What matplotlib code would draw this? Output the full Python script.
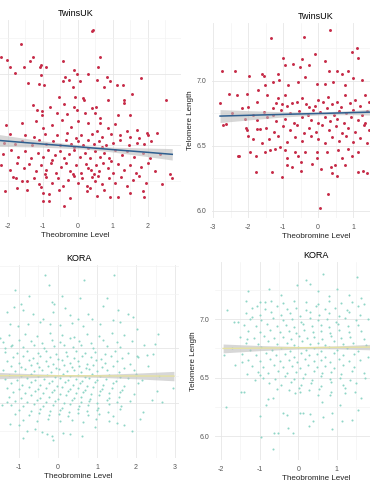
import matplotlib
matplotlib.use("Agg")
import matplotlib.pyplot as plt
from matplotlib.ticker import MultipleLocator
import numpy as np

plt.rcParams['font.family'] = ['Liberation Sans', 'DejaVu Sans']
plt.rcParams['axes.unicode_minus'] = False

########## Data
# TwinsUK, left panel : (theobromine level, telomere length)
twins_a = [
    (0.40, 7.30), (0.42, 7.31), (-1.63, 7.21), (-2.21, 7.12), (-2.03, 7.10), (-1.94, 7.05), (-1.80, 7.01),
    (-1.53, 7.05), (-1.37, 7.09), (-1.29, 7.12), (-1.09, 7.05), (-1.05, 7.06), (-1.06, 6.99), (-0.90, 7.05),
    (-0.42, 7.09), (-0.11, 7.03), (-0.02, 7.00), (0.30, 7.00), (0.63, 7.12), (0.58, 7.05), (-1.43, 6.94),
    (-1.11, 6.93), (-0.96, 6.92), (-0.37, 6.98), (-0.42, 6.95), (-0.25, 6.96), (-0.13, 6.91), (0.06, 6.95),
    (0.55, 6.96), (0.84, 6.98), (0.93, 6.95), (0.74, 6.91), (1.12, 6.92), (1.28, 6.92), (1.80, 6.97),
    (1.56, 6.86), (2.51, 6.82), (-0.55, 6.84), (-0.40, 6.79), (-0.09, 6.84), (0.14, 6.83), (0.18, 6.82),
    (-0.11, 6.77), (-0.02, 6.75), (0.40, 6.76), (0.51, 6.77), (0.85, 6.82), (1.31, 6.82), (1.33, 6.80),
    (-1.29, 6.78), (-1.17, 6.75), (-1.03, 6.74), (-0.80, 6.77), (-0.60, 6.73), (-0.31, 6.72), (0.20, 6.73),
    (0.49, 6.73), (0.63, 6.69), (1.14, 6.71), (1.49, 6.71), (-1.03, 6.71),
    (-1.20, 6.67), (-0.74, 6.64), (-1.00, 6.62), (-0.46, 6.68), (0.00, 6.67), (0.29, 6.66), (0.63, 6.66),
    (1.06, 6.65), (1.40, 6.60), (1.69, 6.61), (1.97, 6.59), (2.26, 6.59), (-1.60, 6.66), (-0.20, 6.63),
    (0.85, 6.62), (-2.05, 6.64),
    (-1.94, 6.58), (-1.51, 6.57), (-1.25, 6.56), (-0.95, 6.58), (-0.60, 6.57), (-0.30, 6.59), (0.10, 6.57),
    (0.40, 6.58), (0.70, 6.56), (0.95, 6.58), (1.20, 6.57), (1.50, 6.56), (1.75, 6.55), (2.00, 6.57),
    (-0.05, 6.55), (0.55, 6.60),
    (-2.10, 6.52), (-1.80, 6.51), (-1.60, 6.53), (-1.30, 6.50), (-1.10, 6.54), (-0.90, 6.51), (-0.70, 6.53),
    (-0.50, 6.50), (-0.35, 6.54), (-0.20, 6.51), (0.00, 6.53), (0.15, 6.50), (0.30, 6.54), (0.45, 6.51),
    (0.60, 6.53), (0.80, 6.50), (1.00, 6.52), (1.20, 6.54), (1.45, 6.50), (1.70, 6.52), (1.90, 6.51),
    (2.10, 6.53), (-0.10, 6.49), (0.70, 6.49),
    (-2.15, 6.44), (-1.90, 6.47), (-1.70, 6.42), (-1.50, 6.46), (-1.35, 6.41), (-1.15, 6.45), (-1.00, 6.42),
    (-0.85, 6.47), (-0.65, 6.43), (-0.50, 6.46), (-0.40, 6.41), (-0.25, 6.44), (-0.10, 6.47), (0.05, 6.42),
    (0.20, 6.45), (0.35, 6.41), (0.50, 6.46), (0.62, 6.42), (0.75, 6.45), (0.90, 6.41), (1.05, 6.47),
    (1.25, 6.43), (1.40, 6.46), (1.60, 6.42), (1.85, 6.45), (2.05, 6.41), (2.35, 6.44), (-0.75, 6.40),
    (0.28, 6.48),
    (-2.20, 6.36), (-1.95, 6.33), (-1.75, 6.38), (-1.55, 6.34), (-1.40, 6.37), (-1.20, 6.32), (-1.05, 6.36),
    (-0.90, 6.33), (-0.78, 6.38), (-0.62, 6.31), (-0.48, 6.35), (-0.35, 6.38), (-0.22, 6.32), (-0.05, 6.36),
    (0.08, 6.31), (0.22, 6.37), (0.38, 6.33), (0.45, 6.30), (0.52, 6.36), (0.60, 6.32), (0.72, 6.38),
    (0.85, 6.34), (1.00, 6.31), (1.15, 6.37), (1.32, 6.33), (1.48, 6.36), (1.65, 6.31), (1.80, 6.35),
    (2.00, 6.38), (2.20, 6.32), (-0.15, 6.30), (0.30, 6.34), (-0.95, 6.30), (0.95, 6.39),
    (-1.85, 6.28), (-1.60, 6.25), (-1.46, 6.25), (-1.77, 6.27), (-1.25, 6.27), (-1.10, 6.23), (-0.92, 6.28),
    (-0.75, 6.24), (-0.58, 6.27), (-0.42, 6.22), (-0.28, 6.26), (-0.12, 6.29), (0.00, 6.24), (0.12, 6.27),
    (0.25, 6.22), (0.40, 6.28), (0.48, 6.25), (0.58, 6.29), (0.70, 6.23), (0.88, 6.27), (1.05, 6.24),
    (1.22, 6.28), (1.40, 6.22), (1.58, 6.26), (1.75, 6.29), (1.95, 6.24), (2.63, 6.30), (2.69, 6.27),
    (2.40, 6.23), (-1.05, 6.21), (0.35, 6.20),
    (-2.09, 6.18), (-1.00, 6.17), (-0.83, 6.16), (-1.00, 6.11), (-0.83, 6.11), (-0.40, 6.08), (-0.23, 6.13),
    (0.26, 6.18), (0.54, 6.15), (0.91, 6.14), (1.14, 6.14), (1.89, 6.14), (1.86, 6.18), (-1.45, 6.19),
    (-0.55, 6.19), (0.75, 6.19), (1.50, 6.17), (-1.75, 6.20),
]

# TwinsUK, right panel
twins_b = [
    (-1.34, 7.33), (-0.40, 7.34), (0.34, 7.39), (1.11, 7.25), (0.97, 7.22), (-2.74, 7.08), (-2.37, 7.08),
    (-1.97, 7.04), (-1.60, 7.05), (-1.54, 7.04), (-2.54, 6.90), (-2.31, 6.89), (-2.03, 6.90), (-2.80, 6.83),
    (-1.00, 7.18), (-0.46, 7.17), (-0.09, 7.21), (-0.94, 7.12), (-0.71, 7.13), (-0.51, 7.11), (-0.26, 7.12),
    (0.20, 7.15), (0.31, 7.08), (0.54, 7.08), (0.69, 7.05), (0.86, 7.08), (1.14, 7.18), (-1.14, 7.05),
    (-1.29, 6.99), (-1.11, 7.01), (-0.86, 6.97), (-0.57, 6.99), (-0.37, 7.03), (-0.03, 6.98), (0.20, 6.98),
    (0.43, 6.99), (0.77, 6.97), (1.00, 7.02), (1.26, 7.01), (-1.51, 6.97), (-1.71, 6.93), (-1.46, 6.89),
    (-1.74, 6.84), (-2.00, 6.80), (-2.17, 6.79), (-1.14, 6.87), (-0.94, 6.89), (-1.03, 6.82), (-0.74, 6.83),
    (-0.46, 6.87), (-0.26, 6.80), (0.00, 6.85), (0.29, 6.88), (0.54, 6.84), (0.77, 6.89), (1.06, 6.85),
    (1.34, 6.89), (-1.29, 6.79),
    (-2.71, 6.66), (-2.00, 6.58), (-2.03, 6.62), (-1.74, 6.63), (-1.66, 6.63), (-2.29, 6.42), (-2.26, 6.42),
    (-1.94, 6.45), (-1.77, 6.42), (-1.60, 6.52), (-1.77, 6.30), (-1.31, 6.30), (-1.03, 6.26), (-0.89, 6.35),
    (-0.89, 6.41), (-0.74, 6.34), (-0.49, 6.31), (-0.49, 6.38), (-0.17, 6.36), (0.09, 6.32), (0.37, 6.34),
    (0.49, 6.35), (0.40, 6.29), (0.54, 6.27), (0.29, 6.13), (0.06, 6.02), (0.77, 6.35), (1.14, 6.30),
    (1.29, 6.31), (1.40, 6.29), (-1.51, 6.45), (-1.37, 6.47), (-1.23, 6.48), (-1.09, 6.49), (-0.94, 6.47),
    (-0.66, 6.45), (-0.37, 6.45), (-0.03, 6.45), (0.26, 6.45), (0.57, 6.47), (0.86, 6.48), (1.14, 6.45),
    (-0.03, 6.41), (-0.57, 6.42), (0.69, 6.41), (0.97, 6.42),
    (-1.20, 6.83), (-0.90, 6.81), (-0.60, 6.84), (-0.35, 6.82), (-0.10, 6.81), (0.15, 6.84), (0.40, 6.82),
    (0.65, 6.80), (0.90, 6.83), (1.20, 6.81), (1.45, 6.84),
    (-1.55, 6.76), (-1.30, 6.74), (-1.05, 6.78), (-0.80, 6.75), (-0.55, 6.77), (-0.30, 6.74), (-0.15, 6.78),
    (0.05, 6.76), (0.25, 6.79), (0.45, 6.74), (0.60, 6.77), (0.80, 6.75), (1.00, 6.78), (1.25, 6.74),
    (1.40, 6.77), (-2.45, 6.75), (-1.85, 6.74),
    (-1.75, 6.70), (-1.45, 6.72), (-1.20, 6.69), (-0.95, 6.71), (-0.70, 6.68), (-0.45, 6.72), (-0.20, 6.70),
    (0.00, 6.68), (0.20, 6.72), (0.35, 6.69), (0.55, 6.71), (0.75, 6.68), (0.95, 6.72), (1.15, 6.70),
    (1.35, 6.68), (-2.10, 6.71), (-2.63, 6.67),
    (-1.50, 6.64), (-1.25, 6.61), (-1.00, 6.65), (-0.80, 6.62), (-0.60, 6.66), (-0.40, 6.60), (-0.25, 6.64),
    (-0.05, 6.61), (0.10, 6.66), (0.30, 6.62), (0.50, 6.65), (0.68, 6.60), (0.85, 6.64), (1.05, 6.61),
    (1.30, 6.66), (1.45, 6.62), (-2.05, 6.64),
    (-1.40, 6.55), (-1.15, 6.58), (-0.90, 6.53), (-0.65, 6.57), (-0.45, 6.54), (-0.20, 6.58), (0.00, 6.55),
    (0.20, 6.52), (0.40, 6.57), (0.60, 6.54), (0.80, 6.58), (1.00, 6.53), (1.20, 6.56), (1.40, 6.52),
    (-1.85, 6.55),
]

# KORA, left panel
kora_a = [
    (-0.33, 7.67), (1.44, 7.67), (-0.23, 7.58), (0.67, 7.62), (-1.10, 7.53), (-0.74, 7.48), (0.10, 7.48),
    (0.56, 7.46), (1.26, 7.46), (-0.15, 7.42), (-0.10, 7.40), (-0.95, 7.40), (-1.13, 7.38), (-1.31, 7.33),
    (1.15, 7.39), (0.18, 7.37), (1.54, 7.35), (1.80, 7.31), (1.92, 7.29), (-0.90, 7.35), (-0.64, 7.31),
    (-0.38, 7.27), (-0.13, 7.33), (0.31, 7.30), (0.51, 7.27), (0.77, 7.31), (0.87, 7.27), (1.41, 7.26),
    (1.59, 7.24), (-1.23, 7.22), (-1.03, 7.20), (-0.77, 7.22), (-0.46, 7.24), (-0.21, 7.22), (0.05, 7.21),
    (0.36, 7.23), (0.64, 7.20), (1.08, 7.22), (2.03, 7.18), (2.56, 7.13), (2.49, 7.04), (2.28, 6.94),
    (2.44, 6.95), (2.03, 6.93), (-1.49, 7.09), (-1.18, 7.03), (-1.36, 7.00),
    (-0.80, 6.25), (-0.60, 6.26), (-0.40, 6.24), (-0.90, 6.18), (-0.28, 6.22), (-0.15, 6.20), (-0.13, 6.16),
    (0.13, 6.23), (0.31, 6.22), (0.62, 6.20), (1.90, 6.25), (1.51, 6.32), (2.10, 6.36), (-1.23, 6.31),
    (-1.44, 6.48), (-1.31, 6.51), (2.67, 6.51), (2.95, 6.64), (2.41, 6.53), (2.18, 6.42), (2.54, 6.61),
    (1.70, 6.30), (0.95, 6.28), (-1.00, 6.30),
    (-1.25, 7.12), (-0.85, 7.13), (-0.55, 7.11), (-0.20, 7.14), (0.10, 7.12), (0.42, 7.10), (0.75, 7.13),
    (1.05, 7.11), (1.38, 7.14), (1.70, 7.12),
    (-1.40, 7.06), (-1.00, 7.08), (-0.70, 7.07), (-0.40, 7.05), (-0.15, 7.08), (0.05, 7.06), (0.30, 7.09),
    (0.55, 7.07), (0.85, 7.05), (1.15, 7.08), (1.50, 7.06), (1.90, 7.07),
    (-1.20, 7.02), (-0.90, 7.01), (-0.62, 7.03), (-0.35, 7.00), (-0.10, 7.02), (0.15, 7.03), (0.38, 7.01),
    (0.60, 7.03), (0.90, 7.00), (1.25, 7.02), (1.60, 7.01), (2.20, 7.03),
    (-1.35, 6.97), (-1.05, 6.96), (-0.80, 6.98), (-0.50, 6.96), (-0.30, 6.98), (-0.05, 6.95), (0.20, 6.97),
    (0.45, 6.98), (0.70, 6.96), (0.95, 6.97), (1.20, 6.95), (1.45, 6.98), (1.80, 6.96),
    (-1.15, 6.92), (-0.90, 6.93), (-0.65, 6.91), (-0.45, 6.93), (-0.20, 6.92), (0.00, 6.90), (0.22, 6.93),
    (0.40, 6.91), (0.62, 6.93), (0.85, 6.92), (1.10, 6.90), (1.35, 6.93), (1.65, 6.91), (2.05, 6.92),
    (-1.30, 6.88), (-1.00, 6.87), (-0.75, 6.89), (-0.55, 6.87), (-0.32, 6.88), (-0.12, 6.86), (0.10, 6.89),
    (0.30, 6.87), (0.52, 6.88), (0.75, 6.86), (0.98, 6.89), (1.20, 6.87), (1.50, 6.88), (1.85, 6.86),
    (-1.20, 6.84), (-0.95, 6.83), (-0.70, 6.85), (-0.48, 6.83), (-0.25, 6.84), (-0.05, 6.82), (0.15, 6.85),
    (0.35, 6.83), (0.55, 6.84), (0.72, 6.82), (0.90, 6.85), (1.12, 6.83), (1.40, 6.84), (1.70, 6.82),
    (2.30, 6.84),
    (-1.40, 6.80), (-1.10, 6.79), (-0.85, 6.81), (-0.62, 6.79), (-0.40, 6.80), (-0.18, 6.78), (0.02, 6.81),
    (0.22, 6.79), (0.40, 6.80), (0.60, 6.78), (0.80, 6.81), (1.00, 6.79), (1.25, 6.80), (1.55, 6.78),
    (1.95, 6.80),
    (-1.25, 6.76), (-0.95, 6.75), (-0.70, 6.77), (-0.50, 6.75), (-0.28, 6.76), (-0.08, 6.74), (0.12, 6.77),
    (0.30, 6.75), (0.50, 6.76), (0.68, 6.74), (0.88, 6.77), (1.08, 6.75), (1.30, 6.76), (1.60, 6.74),
    (2.00, 6.77), (2.60, 6.75),
    (-1.35, 6.72), (-1.05, 6.71), (-0.80, 6.73), (-0.58, 6.71), (-0.35, 6.72), (-0.15, 6.70), (0.05, 6.73),
    (0.25, 6.71), (0.45, 6.72), (0.62, 6.70), (0.80, 6.73), (1.00, 6.71), (1.22, 6.72), (1.48, 6.70),
    (1.80, 6.73), (2.15, 6.71),
    (-1.20, 6.68), (-0.92, 6.67), (-0.68, 6.69), (-0.45, 6.67), (-0.22, 6.68), (-0.02, 6.66), (0.18, 6.69),
    (0.38, 6.67), (0.56, 6.68), (0.75, 6.66), (0.95, 6.69), (1.15, 6.67), (1.40, 6.68), (1.70, 6.66),
    (2.05, 6.68),
    (-1.30, 6.64), (-1.00, 6.63), (-0.75, 6.65), (-0.52, 6.63), (-0.30, 6.64), (-0.10, 6.62), (0.10, 6.65),
    (0.30, 6.63), (0.50, 6.64), (0.70, 6.62), (0.90, 6.65), (1.12, 6.63), (1.38, 6.64), (1.65, 6.62),
    (-1.15, 6.60), (-0.85, 6.59), (-0.60, 6.61), (-0.38, 6.59), (-0.15, 6.60), (0.05, 6.58), (0.25, 6.61),
    (0.45, 6.59), (0.65, 6.60), (0.85, 6.58), (1.08, 6.61), (1.30, 6.59), (1.60, 6.60), (1.95, 6.58),
    (-1.25, 6.56), (-0.95, 6.55), (-0.70, 6.57), (-0.45, 6.55), (-0.22, 6.56), (0.00, 6.54), (0.20, 6.57),
    (0.40, 6.55), (0.60, 6.56), (0.82, 6.54), (1.05, 6.57), (1.30, 6.55), (1.55, 6.56),
    (-1.10, 6.52), (-0.80, 6.51), (-0.55, 6.53), (-0.30, 6.51), (-0.08, 6.52), (0.15, 6.50), (0.35, 6.53),
    (0.58, 6.51), (0.80, 6.52), (1.00, 6.50), (1.25, 6.53), (1.50, 6.51), (1.85, 6.52),
    (-1.20, 6.48), (-0.90, 6.47), (-0.62, 6.49), (-0.38, 6.47), (-0.12, 6.48), (0.10, 6.46), (0.32, 6.49),
    (0.55, 6.47), (0.78, 6.48), (1.02, 6.46), (1.30, 6.49), (1.62, 6.47),
    (-1.00, 6.44), (-0.70, 6.43), (-0.45, 6.45), (-0.20, 6.43), (0.05, 6.44), (0.28, 6.42), (0.50, 6.45),
    (0.75, 6.43), (1.00, 6.44), (1.28, 6.42), (1.60, 6.45),
    (-1.10, 6.40), (-0.75, 6.39), (-0.48, 6.41), (-0.22, 6.39), (0.02, 6.40), (0.25, 6.38), (0.50, 6.41),
    (0.78, 6.39), (1.05, 6.40), (1.40, 6.38),
    (-0.90, 6.35), (-0.55, 6.34), (-0.25, 6.36), (0.05, 6.34), (0.35, 6.35), (0.65, 6.33), (0.98, 6.36),
    (1.30, 6.34),
]

# KORA, right panel
kora_b = [
    (0.65, 7.39), (1.52, 7.36), (0.21, 7.34), (0.31, 7.30), (-0.03, 7.29), (-1.29, 7.24), (-0.75, 7.26),
    (0.52, 7.24), (1.01, 7.26), (-1.83, 7.08), (-1.65, 6.98), (-1.55, 6.98), (-1.32, 6.83), (-1.34, 7.16),
    (-1.06, 7.11), (-0.85, 7.15), (-1.19, 7.02), (1.30, 7.21), (1.62, 7.18), (-0.45, 7.21), (0.80, 7.20),
    (-1.86, 6.25), (-1.47, 6.38), (-1.40, 6.38), (-0.98, 6.17), (-0.96, 5.99), (-0.65, 5.89), (-0.62, 6.03),
    (-0.52, 6.03), (-0.26, 6.07), (-0.13, 6.03), (-0.39, 6.20), (-0.28, 6.18), (0.05, 6.20), (0.13, 6.20),
    (0.31, 6.19), (0.39, 6.13), (0.28, 6.09), (0.65, 6.16), (0.88, 6.06), (0.88, 6.20), (1.09, 6.27),
    (1.14, 6.13), (1.40, 6.14), (1.55, 6.22), (-0.83, 6.27), (-0.78, 6.32), (-0.65, 6.33), (-1.45, 6.63),
    (-1.63, 6.61), (-1.32, 6.53), (-1.11, 6.48), (-0.98, 6.52), (-0.08, 6.37), (0.05, 6.38), (0.52, 6.35),
    (0.62, 6.29), (0.83, 6.35), (1.21, 6.37), (1.47, 6.38), (1.63, 6.33), (1.73, 6.50), (-1.92, 6.69),
    (-1.00, 7.15), (-0.70, 7.16), (-0.40, 7.14), (-0.10, 7.16), (0.20, 7.15), (0.50, 7.13), (0.80, 7.16),
    (1.10, 7.14), (1.40, 7.15), (1.70, 7.13),
    (-1.20, 7.10), (-0.85, 7.09), (-0.55, 7.11), (-0.30, 7.09), (-0.05, 7.10), (0.20, 7.08), (0.45, 7.11),
    (0.70, 7.09), (0.95, 7.10), (1.25, 7.08), (1.55, 7.11),
    (-1.35, 7.05), (-1.00, 7.04), (-0.70, 7.06), (-0.45, 7.04), (-0.20, 7.05), (0.05, 7.03), (0.30, 7.06),
    (0.55, 7.04), (0.80, 7.05), (1.05, 7.03), (1.30, 7.06), (1.60, 7.04),
    (-1.25, 7.00), (-0.95, 6.99), (-0.65, 7.01), (-0.40, 6.99), (-0.15, 7.00), (0.08, 6.98), (0.30, 7.01),
    (0.52, 6.99), (0.75, 7.00), (0.98, 6.98), (1.22, 7.01), (1.50, 6.99), (1.80, 7.00),
    (-1.40, 6.95), (-1.10, 6.94), (-0.80, 6.96), (-0.55, 6.94), (-0.32, 6.95), (-0.10, 6.93), (0.12, 6.96),
    (0.35, 6.94), (0.58, 6.95), (0.80, 6.93), (1.02, 6.96), (1.28, 6.94), (1.55, 6.95),
    (-1.30, 6.90), (-1.00, 6.89), (-0.72, 6.91), (-0.48, 6.89), (-0.25, 6.90), (-0.05, 6.88), (0.15, 6.91),
    (0.38, 6.89), (0.60, 6.90), (0.82, 6.88), (1.05, 6.91), (1.30, 6.89), (1.62, 6.90),
    (-1.50, 6.85), (-1.15, 6.84), (-0.88, 6.86), (-0.62, 6.84), (-0.40, 6.85), (-0.18, 6.83), (0.02, 6.86),
    (0.22, 6.84), (0.42, 6.85), (0.62, 6.83), (0.85, 6.86), (1.10, 6.84), (1.35, 6.85), (1.70, 6.83),
    (-1.35, 6.80), (-1.05, 6.79), (-0.78, 6.81), (-0.55, 6.79), (-0.30, 6.80), (-0.10, 6.78), (0.10, 6.81),
    (0.30, 6.79), (0.50, 6.80), (0.70, 6.78), (0.92, 6.81), (1.15, 6.79), (1.42, 6.80), (1.75, 6.78),
    (-1.70, 6.75), (-1.25, 6.74), (-0.95, 6.76), (-0.68, 6.74), (-0.45, 6.75), (-0.22, 6.73), (0.00, 6.76),
    (0.20, 6.74), (0.40, 6.75), (0.60, 6.73), (0.80, 6.76), (1.00, 6.74), (1.25, 6.75), (1.55, 6.73),
    (-1.45, 6.70), (-1.10, 6.69), (-0.82, 6.71), (-0.58, 6.69), (-0.35, 6.70), (-0.12, 6.68), (0.08, 6.71),
    (0.28, 6.69), (0.48, 6.70), (0.70, 6.68), (0.92, 6.71), (1.15, 6.69), (1.45, 6.70), (1.80, 6.68),
    (-1.30, 6.65), (-1.00, 6.64), (-0.72, 6.66), (-0.48, 6.64), (-0.25, 6.65), (-0.02, 6.63), (0.18, 6.66),
    (0.40, 6.64), (0.60, 6.65), (0.82, 6.63), (1.05, 6.66), (1.30, 6.64), (1.60, 6.65),
    (-1.20, 6.60), (-0.90, 6.59), (-0.62, 6.61), (-0.40, 6.59), (-0.15, 6.60), (0.05, 6.58), (0.25, 6.61),
    (0.48, 6.59), (0.70, 6.60), (0.92, 6.58), (1.15, 6.61), (1.45, 6.59),
    (-1.05, 6.55), (-0.78, 6.54), (-0.52, 6.56), (-0.28, 6.54), (-0.05, 6.55), (0.18, 6.53), (0.40, 6.56),
    (0.62, 6.54), (0.85, 6.55), (1.10, 6.53), (1.38, 6.56), (1.70, 6.54),
    (-0.90, 6.50), (-0.60, 6.49), (-0.35, 6.51), (-0.10, 6.49), (0.12, 6.50), (0.35, 6.48), (0.58, 6.51),
    (0.82, 6.49), (1.08, 6.50), (1.35, 6.48),
    (-0.75, 6.45), (-0.45, 6.44), (-0.18, 6.46), (0.08, 6.44), (0.32, 6.45), (0.58, 6.43), (0.85, 6.46),
    (1.15, 6.44), (1.50, 6.45),
    (-0.55, 6.40), (-0.25, 6.39), (0.02, 6.41), (0.28, 6.39), (0.55, 6.40), (0.85, 6.38), (1.20, 6.41),
]

# fitted lines with confidence bands (x, fit, lower, upper)
fit_a_x = [-3.0, -2.0, -1.0, 0.0, 0.35, 1.0, 2.0, 2.7]
fit_a_y = [6.550, 6.530, 6.510, 6.491, 6.484, 6.471, 6.452, 6.438]
fit_a_lo = [6.495, 6.493, 6.488, 6.477, 6.471, 6.454, 6.422, 6.398]
fit_a_hi = [6.605, 6.567, 6.532, 6.505, 6.497, 6.488, 6.482, 6.478]

fit_b_x = [-2.8, -2.0, -1.0, 0.0, 0.2, 1.0, 2.0, 2.7]
fit_b_y = [6.730, 6.736, 6.743, 6.750, 6.751, 6.757, 6.764, 6.769]
fit_b_lo = [6.680, 6.700, 6.723, 6.738, 6.739, 6.741, 6.734, 6.727]
fit_b_hi = [6.780, 6.772, 6.763, 6.762, 6.763, 6.773, 6.794, 6.811]

fit_c_x = [-2.0, -1.0, 0.0, 0.3, 1.0, 2.0, 2.97]
fit_c_y = [6.752, 6.751, 6.750, 6.750, 6.749, 6.748, 6.747]
fit_c_lo = [6.716, 6.729, 6.739, 6.740, 6.736, 6.722, 6.704]
fit_c_hi = [6.788, 6.773, 6.761, 6.760, 6.762, 6.774, 6.790]

fit_d_x = [-1.94, -1.0, 0.0, 0.3, 1.0, 2.0, 3.0]
fit_d_y = [6.750, 6.753, 6.756, 6.757, 6.759, 6.762, 6.765]
fit_d_lo = [6.712, 6.731, 6.745, 6.747, 6.746, 6.737, 6.725]
fit_d_hi = [6.788, 6.775, 6.767, 6.767, 6.772, 6.787, 6.805]

y_ticks = [6.0, 6.5, 7.0]
# tick labels that fall inside the cropped picture
x_ticks_a = [-2, -1, 0, 1, 2]
x_ticks_b = [-3, -2, -1, 0, 1]
x_ticks_c = [-1, 0, 1, 2, 3]
x_ticks_d = [-2, -1, 0, 1]

########## Style
TWINS_PT = '#C62A47'
KORA_PT = '#8FD6C7'
TWINS_LINE = '#2F5F8F'
KORA_LINE = '#E6E2A2'
BAND = '#BDBDBD'

W, H = 370, 490
fig = plt.figure(figsize=(W / 100, H / 100), dpi=100)


def box(left, right, top, bottom):
    # pixel box -> figure fraction (panels are cropped at the figure edge)
    return [left / W, 1 - bottom / H, (right - left) / W, (bottom - top) / H]


def panel(rect, pts, fx, fy, flo, fhi, title, xlim, ylim, xt, pcol, lcol, psize, lw, show_y):
    ax = fig.add_axes(rect)
    xs, ys = zip(*pts)
    ax.scatter(xs, ys, s=psize, color=pcol, linewidths=0, zorder=2)
    ax.fill_between(fx, flo, fhi, color=BAND, alpha=0.6, linewidth=0, zorder=3)
    ax.plot(fx, fy, color=lcol, lw=lw, zorder=4)
    ax.set_xlim(*xlim)
    ax.set_ylim(*ylim)
    ax.set_xticks(xt)
    ax.xaxis.set_minor_locator(MultipleLocator(0.5))
    ax.set_yticks(y_ticks)
    ax.yaxis.set_minor_locator(MultipleLocator(0.25))
    ax.grid(which='major', color='#E6E6E6', lw=0.6, zorder=0)
    ax.grid(which='minor', color='#F2F2F2', lw=0.45, zorder=0)
    ax.set_axisbelow(True)
    for s in ax.spines.values():
        s.set_visible(False)
    ax.tick_params(which='both', length=0, labelsize=5, labelcolor='#555555', pad=4)
    ax.set_title(title, fontsize=6.5, pad=3)
    ax.set_xlabel("Theobromine Level", fontsize=5.8, labelpad=1.5, color='#222222')
    if show_y:
        ax.set_ylabel("Telomere Length", fontsize=5.8, labelpad=2, color='#222222')
    else:
        # the y axis of the left panels lies outside the cropped picture
        ax.tick_params(axis='y', labelleft=False)
    return ax


panel(box(-29.5, 181, 20, 217), twins_a, fit_a_x, fit_a_y, fit_a_lo, fit_a_hi, "TwinsUK",
      (-3.07, 2.95), (6.027, 7.377), x_ticks_a, TWINS_PT, TWINS_LINE, 4.5, 1.1, False)
panel(box(212, 420, 23, 218), twins_b, fit_b_x, fit_b_y, fit_b_lo, fit_b_hi, "TwinsUK",
      (-3.03, 2.91), (5.946, 7.446), x_ticks_b, TWINS_PT, TWINS_LINE, 4.5, 1.1, True)
panel(box(-22, 179, 265, 458), kora_a, fit_c_x, fit_c_y, fit_c_lo, fit_c_hi, "KORA",
      (-2.05, 3.1), (6.095, 7.76), x_ticks_c, KORA_PT, KORA_LINE, 2.2, 1.0, False)
panel(box(215, 417, 262, 460), kora_b, fit_d_x, fit_d_y, fit_d_lo, fit_d_hi, "KORA",
      (-2.15, 3.07), (5.795, 7.49), x_ticks_d, KORA_PT, KORA_LINE, 2.2, 1.0, True)

fig.savefig("out.png", dpi=100)
